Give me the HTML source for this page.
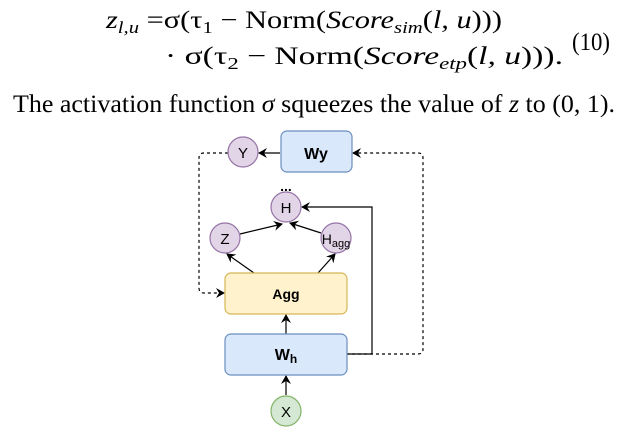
<!DOCTYPE html>
<html><head><meta charset="utf-8"><style>
html,body{margin:0;padding:0;background:#fff;}
svg{display:block;}
</style></head><body>
<svg width="627" height="436" viewBox="0 0 627 436" xmlns="http://www.w3.org/2000/svg">
<defs>
<marker id="a" markerWidth="10" markerHeight="10" refX="8" refY="5" orient="auto" markerUnits="userSpaceOnUse">
<path d="M0,0 L9,5 L0,10 L3,5 Z" fill="#000"/>
</marker>
</defs>
<g font-family="Liberation Serif, serif" fill="#000">
<text x="106" y="28" font-size="25" textLength="396" lengthAdjust="spacingAndGlyphs"><tspan font-style="italic">z</tspan><tspan font-size="17" font-style="italic" dy="5">l,u</tspan><tspan dy="-5"> =σ(τ</tspan><tspan font-size="17" dy="5">1</tspan><tspan dy="-5"> − Norm(</tspan><tspan font-style="italic">Score</tspan><tspan font-size="17" font-style="italic" dy="5">sim</tspan><tspan dy="-5">(</tspan><tspan font-style="italic">l, u</tspan><tspan>)))</tspan></text>
<text x="165" y="64" font-size="25" textLength="398" lengthAdjust="spacingAndGlyphs">· σ(τ<tspan font-size="17" dy="5">2</tspan><tspan dy="-5"> − Norm(</tspan><tspan font-style="italic">Score</tspan><tspan font-size="17" font-style="italic" dy="5">etp</tspan><tspan dy="-5">(</tspan><tspan font-style="italic">l, u</tspan><tspan>))).</tspan></text>
<text x="572" y="50" font-size="25" textLength="38" lengthAdjust="spacingAndGlyphs">(10)</text>
<text x="13" y="112" font-size="25" textLength="602" lengthAdjust="spacingAndGlyphs">The activation function <tspan font-style="italic">σ</tspan> squeezes the value of <tspan font-style="italic">z</tspan> to (0, 1).</text>
</g>
<g stroke-width="1.2" fill="none">
<path d="M228,153 L204,153 Q199,153 199,158 L199,288 Q199,293 204,293 L224,293" stroke="#000" stroke-dasharray="3,3" marker-end="url(#a)"/>
<path d="M346,354 L418,354 Q423,354 423,349 L423,158 Q423,153 418,153 L353,153" stroke="#000" stroke-dasharray="3,3" marker-end="url(#a)"/>
<path d="M346,354 L372,354 L372,207 L302,207" stroke="#000" marker-end="url(#a)"/>
<path d="M280,153 L259,153" stroke="#000" marker-end="url(#a)"/>
<path d="M286,395 L286,376" stroke="#000" marker-end="url(#a)"/>
<path d="M286,334 L286,315" stroke="#000" marker-end="url(#a)"/>
<path d="M254,273 L227,254" stroke="#000" marker-end="url(#a)"/>
<path d="M318,273 L335,254" stroke="#000" marker-end="url(#a)"/>
<path d="M240,234 L282,224" stroke="#000" marker-end="url(#a)"/>
<path d="M321,233 L290,223" stroke="#000" marker-end="url(#a)"/>
</g>
<g stroke-width="1.2">
<rect x="281" y="131" width="71" height="41" rx="6" fill="#dae8fc" stroke="#6c8ebf"/>
<rect x="225" y="273" width="122" height="41" rx="6" fill="#fff2cc" stroke="#d6b656"/>
<rect x="225" y="334" width="122" height="41" rx="6" fill="#dae8fc" stroke="#6c8ebf"/>
<circle cx="243" cy="152" r="15" fill="#e1d5e7" stroke="#9673a6"/>
<circle cx="286" cy="207" r="15" fill="#e1d5e7" stroke="#9673a6"/>
<circle cx="225" cy="238" r="15" fill="#e1d5e7" stroke="#9673a6"/>
<circle cx="336" cy="238" r="15" fill="#e1d5e7" stroke="#9673a6"/>
<circle cx="286" cy="411" r="15" fill="#d5e8d4" stroke="#82b366"/>
</g>
<g font-family="Liberation Sans, sans-serif" fill="#000" text-anchor="middle">
<text x="243" y="158" font-size="15">Y</text>
<text x="286" y="213" font-size="15">H</text>
<text x="286" y="191" font-size="14" font-weight="bold">...</text>
<text x="225" y="244" font-size="15">Z</text>
<text x="336" y="244" font-size="14">H<tspan font-size="11" dy="3">agg</tspan></text>
<text x="286" y="417" font-size="15">X</text>
<text x="316" y="159" font-size="16" font-weight="bold">Wy</text>
<text x="286" y="299" font-size="14" font-weight="bold">Agg</text>
<text x="286" y="360" font-size="16" font-weight="bold">W<tspan font-size="12" dy="3">h</tspan></text>
</g>
</svg>
</body></html>
